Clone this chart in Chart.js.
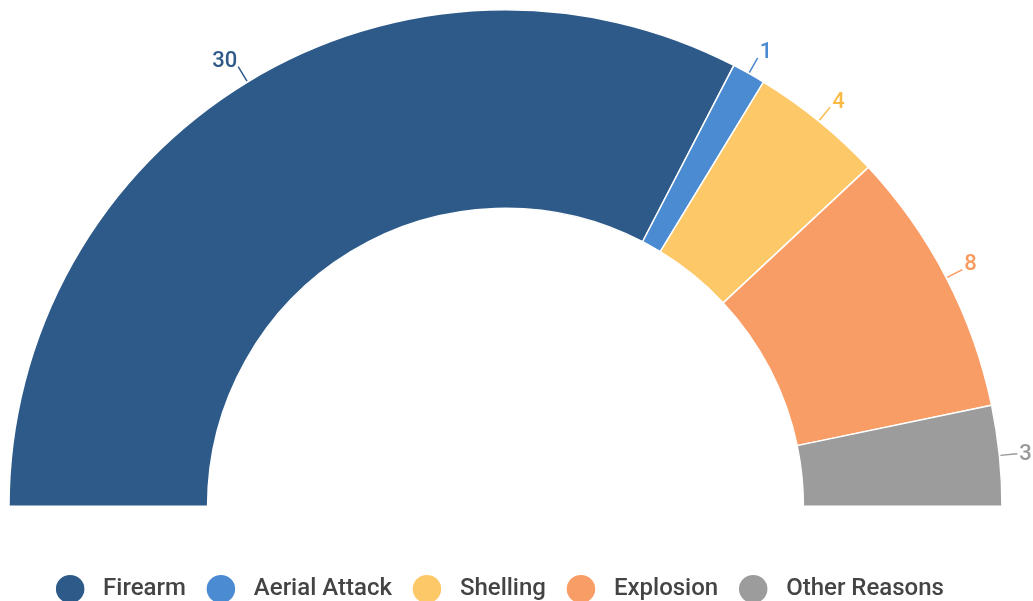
<!DOCTYPE html>
<html>
<head>
<meta charset="utf-8">
<script src="https://cdn.jsdelivr.net/npm/chart.js@4.4.0/dist/chart.umd.min.js"></script>
<style>
  html, body { margin: 0; padding: 0; background: #fff; overflow: hidden; }
  #wrap { position: relative; width: 1033px; height: 611px; }
</style>
</head>
<body>
<div id="wrap"><canvas id="causeChart"></canvas></div>
<script>
const causes = ['Firearm', 'Aerial Attack', 'Shelling', 'Explosion', 'Other Reasons'];
const deaths = [30, 1, 4, 8, 3];
const colors = ['#2e5a8a', '#4a8bd1', '#fdc867', '#f99d66', '#9c9c9c'];
const labelColors = ['#2e5a8a', '#4a8bd1', '#f9bb45', '#f99a5e', '#999999'];

Chart.defaults.font.family = 'Roboto, sans-serif';

// rótulos fora do arco, com linha guia
const outsideLabels = {
  id: 'outsideLabels',
  afterDatasetsDraw(chart) {
    const ctx = chart.ctx;
    const meta = chart.getDatasetMeta(0);
    ctx.save();
    ctx.font = '500 22px Roboto, sans-serif';
    ctx.lineWidth = 1.5;
    meta.data.forEach((arc, i) => {
      const p = arc.getProps(['x', 'y', 'startAngle', 'endAngle', 'outerRadius'], true);
      const mid = (p.startAngle + p.endAngle) / 2;
      const cos = Math.cos(mid), sin = Math.sin(mid);
      const r1 = p.outerRadius + 1, r2 = p.outerRadius + 18;
      const x2 = p.x + cos * r2, y2 = p.y + sin * r2;
      ctx.strokeStyle = labelColors[i];
      ctx.beginPath();
      ctx.moveTo(p.x + cos * r1, p.y + sin * r1);
      ctx.lineTo(x2, y2);
      ctx.stroke();
      ctx.fillStyle = labelColors[i];
      ctx.textAlign = cos >= 0 ? 'left' : 'right';
      ctx.textBaseline = 'middle';
      const s = -sin;
      const up = 5 * Math.min(1, s / 0.5) - 3 * (1 - Math.min(1, s / 0.3));
      ctx.fillText(String(deaths[i]), x2 + (cos >= 0 ? 2 : -1), y2 - up);
    });
    ctx.restore();
  }
};

new Chart(document.getElementById('causeChart'), {
  type: 'doughnut',
  data: {
    labels: causes,
    datasets: [{
      data: deaths,
      backgroundColor: colors,
      borderColor: '#fff',
      borderWidth: 1.5
    }]
  },
  options: {
    responsive: true,
    maintainAspectRatio: false,
    animation: false,
    events: [],
    rotation: -90,
    circumference: 180,
    cutout: '60%',
    layout: { padding: { top: 9, left: 8, right: 30, bottom: 0 } },
    plugins: {
      tooltip: { enabled: false },
      legend: {
        position: 'bottom',
        title: { display: true, text: ' ', font: { size: 10 }, padding: { top: 38, bottom: 0 } },
        labels: {
          usePointStyle: true,
          pointStyle: 'circle',
          pointStyleWidth: 30,
          boxHeight: 21,
          padding: 20,
          color: '#444',
          font: { size: 24, weight: '500' },
          generateLabels(chart) {
            const items = Chart.overrides.doughnut.plugins.legend.labels.generateLabels(chart);
            // espaço extra antes do texto; espaços no fim do último puxam a linha para a esquerda
            return items.map((it, i) => Object.assign(it, {
              text: ' ' + it.text + (i === items.length - 1 ? '  ' : '')
            }));
          }
        }
      }
    }
  },
  plugins: [outsideLabels]
});
</script>
</body>
</html>
